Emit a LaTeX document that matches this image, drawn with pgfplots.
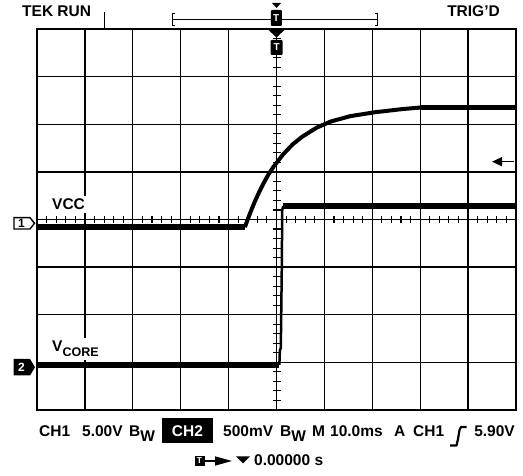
\documentclass[border=0pt]{standalone}
\usepackage{pgfplots}
\pgfplotsset{compat=1.18}
\usetikzlibrary{arrows.meta}
\usepackage{fontspec}
\setmainfont{Liberation Sans}
\newcommand{\scopefont}{\fontsize{15.5bp}{18bp}\selectfont\bfseries}
\begin{document}
\begin{tikzpicture}[font=\scopefont]
\path[use as bounding box] (0,0) rectangle (523bp,476bp);
% minor ticks on the centre lines (graticule)
\begin{scope}[x=1bp,y=-1bp,yshift=476bp]
\foreach \k in {1,...,49} \draw[line width=1.1bp] ({37+\k*9.58},216) -- ({37+\k*9.58},223);
\foreach \k in {1,...,39} \draw[line width=1.1bp] (272.5,{29+\k*9.525}) -- (280.5,{29+\k*9.525});
\end{scope}
\begin{axis}[at={(37bp,66bp)}, anchor=south west, width=479bp, height=381bp, scale only axis,
  xmin=-50, xmax=50, ymin=-4, ymax=4,
  xtick={-40,-30,...,40}, ytick={-3,-2,...,3}, xticklabels={}, yticklabels={},
  major tick length=0pt, grid=major, grid style={black, line width=1.3bp},
  axis line style={line width=2.2bp}]
% CH1 (VCC)
\addplot[black, line width=5.5bp] coordinates {(-50,-0.16)(-6.6,-0.16)};
\addplot[black, line width=4bp, line join=round] coordinates {
(-6.6,-0.16)(-5.6,0.11)(-4.6,0.36)(-3.6,0.58)(-2.6,0.78)(-1.6,0.96)(-0.6,1.11)
(1.4,1.37)(3.4,1.58)(5.4,1.74)(8.4,1.93)(11.4,2.06)(15.4,2.17)(20.4,2.25)(26.4,2.32)(30,2.35)};
\addplot[black, line width=5.5bp] coordinates {(30,2.35)(50,2.35)};
% CH2 (VCORE)
\addplot[black, line width=5.5bp] coordinates {(-50,-3.055)(0.6,-3.055)};
\addplot[black, line width=2.5bp, line join=round] coordinates {(0.6,-3.055)(0.7,-2.75)(0.9,-2.70)(1.1,-1.05)(1.2,0.2)(1.4,0.28)};
\addplot[black, line width=5.5bp] coordinates {(1.4,0.28)(50,0.28)};
\end{axis}
\begin{scope}[x=1bp,y=-1bp,yshift=476bp]
% top texts
\node[anchor=base west, inner sep=0] at (22,17) {TEK RUN};
\node[anchor=base east, inner sep=0] at (500,17) {TRIG'D};
\draw[line width=1.2bp] (104.3,12) -- (104.3,29);
% bracket
\draw[line width=1.5bp] (172.3,19.5) -- (377.7,19.5);
\draw[line width=1.5bp] (175,13.5) -- (172.3,13.5) -- (172.3,25.5) -- (175,25.5);
\draw[line width=1.5bp] (375,13.5) -- (377.7,13.5) -- (377.7,25.5) -- (375,25.5);
\fill (272,3) -- (281,3) -- (276.5,8) -- cycle;
\node[fill=black, text=white, rounded corners=1bp, minimum width=11bp, minimum height=16bp, inner sep=0pt, font=\fontsize{10bp}{12bp}\selectfont\bfseries] at (276.3,18) {T};
% trigger position marker
\fill (267,28.5) -- (286,28.5) -- (276.5,37.5) -- cycle;
\node[fill=black, text=white, rounded corners=1bp, minimum width=12bp, minimum height=15bp, inner sep=0pt, font=\fontsize{10bp}{12bp}\selectfont\bfseries] at (276.6,47.5) {T};
% trigger level arrow
\draw[line width=1.5bp, -{Triangle[length=10bp,width=9bp]}] (513.5,161.7) -- (492,161.7);
% channel markers
\draw[line width=1.4bp, fill=white] (14,217.7) -- (30,217.7) -- (34.5,223.3) -- (30,229) -- (14,229) -- cycle;
\node[font=\fontsize{12bp}{13bp}\selectfont\bfseries] at (21.5,223.6) {1};
\fill (13.5,359) -- (30,359) -- (35,367.3) -- (30,375.5) -- (13.5,375.5) -- cycle;
\node[text=white, font=\fontsize{12bp}{13bp}\selectfont\bfseries] at (21.5,367.6) {2};
% trace labels
\node[anchor=base west, fill=white, inner xsep=3bp, inner ysep=3bp] at (49,210) {VCC};
\node[anchor=base west, fill=white, inner xsep=3bp, inner ysep=3bp] at (49,352) {V\raisebox{-5bp}{\fontsize{12.5bp}{14bp}\selectfont CORE}};
% bottom status line
\node[anchor=base west, inner sep=0] at (39,437) {CH1};
\node[anchor=base west, inner sep=0] at (82,437) {5.00V};
\node[anchor=base west, inner sep=0] at (129,437) {B\raisebox{-5bp}{W}};
\fill (162,418) rectangle (213,443.5);
\node[anchor=base, inner sep=0, text=white] at (187.5,437) {CH2};
\node[anchor=base west, inner sep=0] at (223,437) {500mV};
\node[anchor=base west, inner sep=0] at (280,437) {B\raisebox{-5bp}{W}};
\node[anchor=base west, inner sep=0] at (312,437) {M};
\node[anchor=base west, inner sep=0] at (330,437) {10.0ms};
\node[anchor=base west, inner sep=0] at (394,437) {A};
\node[anchor=base west, inner sep=0] at (413,437) {CH1};
\draw[line width=2.2bp, line join=round] (450,445.5) -- (456.5,445.5) -- (458,439) -- (459.5,430) -- (461,427) -- (466.5,427);
\node[anchor=base east, inner sep=0] at (515,437) {5.90V};
% second line
\node[fill=black, text=white, minimum width=10bp, minimum height=10.5bp, inner sep=0pt, font=\fontsize{8.5bp}{10bp}\selectfont\bfseries] at (199.5,461) {T};
\draw[line width=1.5bp, -{Triangle[length=17bp,width=9bp]}] (204.5,461) -- (232,461);
\fill (236,456.5) -- (250,456.5) -- (243,463.5) -- cycle;
\node[anchor=base west, inner sep=0] at (254,466) {0.00000 s};
\end{scope}
\end{tikzpicture}
\end{document}
